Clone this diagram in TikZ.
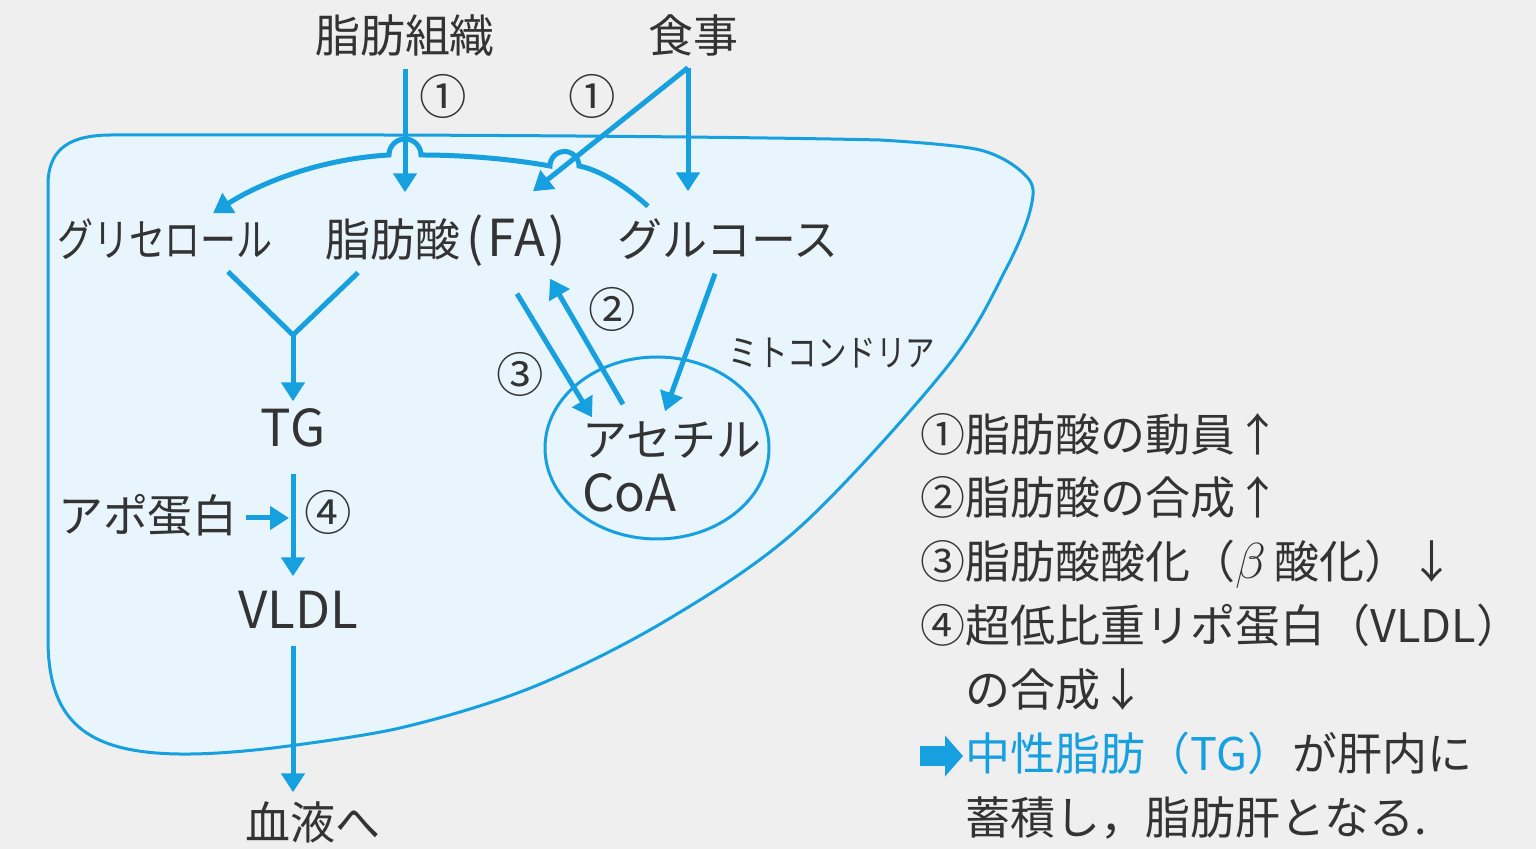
\documentclass[tikz,border=0pt]{standalone}
\usepackage{fontspec}
\setmainfont{Noto Sans CJK JP}
\usepackage{graphicx}
\usetikzlibrary{calc,arrows.meta,shapes.geometric}

\definecolor{bgGray}{HTML}{EFEFEF}
\definecolor{liverFill}{HTML}{E9F5FD}
\definecolor{flowBlue}{HTML}{17A0E0}
\definecolor{inkGray}{HTML}{333333}

\newcommand{\jpsize}{\fontsize{12.8}{15}\selectfont}
\newcommand{\lat}[1]{{\fontsize{14.5}{17}\selectfont #1}}

\begin{document}
\begin{tikzpicture}[
    >={Triangle[length=0.19cm,width=0.23cm]},
    flow/.style={draw=flowBlue, line width=0.05cm},
    lbl/.style={inner sep=0pt, text height=0.36cm, text depth=0.06cm, text=inkGray, font=\jpsize},
    num/.style={lbl, font=\fontsize{13.5}{15}\selectfont},
    legend/.style={lbl, anchor=west},
    liver/.style={fill=liverFill, draw=flowBlue, line width=0.03cm},
  ]

    % Background
    \fill[bgGray] (0,0) rectangle (15.36,8.49);
    \useasboundingbox (0,0) rectangle (15.36,8.49);

    % Liver outline (approximate)
    \filldraw[liver] (0.48,6.64) .. controls (0.48,7.02) and (0.72,7.14) .. (1.12,7.14)
      .. controls (4.5,7.15) and (7.5,7.12) .. (8.80,7.09)
      -- plot[smooth,tension=0.55] coordinates {(8.80,7.09) (9.80,6.99) (10.27,6.72)
         (10.31,6.42) (10.07,5.82) (9.47,4.82) (8.00,3.22) (6.67,2.29) (5.33,1.62)
         (4.00,1.21) (2.73,1.01)}
      .. controls (1.10,0.82) and (0.48,1.05) .. (0.48,2.10)
      -- cycle;

    % Mitochondrion
    \node[ellipse, draw=flowBlue, line width=0.03cm, minimum width=2.24cm, minimum height=1.82cm] (mito) at (6.57,4.01) {};

    % Labels
    \node[lbl] (adipose)  at (4.05,8.11) {脂肪組織};
    \node[lbl] (meal)     at (6.93,8.11) {食事};
    \node[lbl] (glycerol) at (1.65,6.07) {\scalebox{0.8}[1]{グリセロール}};
    \node[lbl] (fa)       at (4.46,6.07) {脂肪酸\hspace{0.06cm}\lat{(\hspace{0.04cm}FA\hspace{0.04cm})}};
    \node[lbl] (glucose)  at (7.28,6.07) {グルコース};
    \node[lbl] (tg)       at (2.93,4.17) {\lat{TG}};
    \node[lbl] (apo)      at (1.48,3.31) {アポ蛋白};
    \node[lbl] (vldl)     at (2.98,2.35) {\lat{VLDL}};
    \node[lbl] (blood)    at (3.13,0.24) {血液へ};
    \node[lbl] (acetyl)   at (6.72,4.07) {アセチル};
    \node[lbl, anchor=west] (coa) at ($(acetyl.west)+(0,-0.55)$) {\lat{CoA}};
    \node[lbl] (mitoname) at (8.32,4.97) {\scalebox{0.8}[1]{\fontsize{10.5}{12}\selectfont ミトコンドリア}};

    % Step numbers
    \node[num] (s1a) at (4.43,7.49) {①};
    \node[num] (s1b) at (5.92,7.49) {①};
    \node[num] (s2)  at (6.12,5.36) {②};
    \node[num] (s3)  at (5.20,4.71) {③};
    \node[num] (s4)  at (3.28,3.33) {④};

    % Branch points
    \coordinate (mealFork) at ($(meal.south)+(-0.05,-0.08)$);
    \coordinate (yJoin)    at (2.93,5.14);

    % 1) Mobilisation and intake
    \draw[flow,->,shorten <=0.09cm,shorten >=0.28cm] (adipose.south) -- (adipose.south |- fa.north);
    \draw[flow,->,shorten >=0.29cm] (mealFork) -- (mealFork |- glucose.north);
    \draw[flow,->] (mealFork) -- ($(fa.north)+(0.87,0.29)$);

    % Glucose -> glycerol, hopping over both arrows
    \draw[flow,->] ($(glucose.north)+(-0.80,0.14)$)
      .. controls (6.20,6.68) and (5.95,6.80) .. (5.79,6.83)
      arc[start angle=0,end angle=180,radius=0.145]
      .. controls (5.00,6.92) and (4.50,6.94) .. (4.21,6.94)
      arc[start angle=0,end angle=180,radius=0.16]
      .. controls (3.20,6.90) and (2.60,6.66) .. ($(glycerol.north)+(0.48,0.07)$);

    % Glycerol + FA -> TG -> VLDL -> blood
    \draw[flow] ($(glycerol.south)+(0.63,-0.08)$) -- (yJoin) -- ($(fa.south)+(-0.88,-0.09)$);
    \draw[flow,->,shorten >=0.09cm] (yJoin) -- (tg.north);
    \draw[flow,->,shorten <=0.2cm,shorten >=0.16cm] (tg.south) -- (tg.south |- vldl.north);
    \draw[flow,->,shorten <=0.07cm,shorten >=0.04cm] (apo.east) -- (apo.east -| tg.south);
    \draw[flow,->,shorten <=0.1cm,shorten >=0.11cm] (tg.south |- vldl.south) -- (tg.south |- blood.north);

    % 2), 3) and glucose into acetyl-CoA
    \draw[flow,->] ($(fa.south)+(0.71,-0.30)$) -- ($(acetyl.north)+(-0.80,0.03)$);
    \draw[flow,->] ($(acetyl.north)+(-0.49,0.16)$) -- ($(fa.south)+(1.04,-0.15)$);
    \draw[flow,->] ($(glucose.south)+(-0.13,-0.10)$) -- ($(acetyl.north)+(-0.07,0.09)$);

    % Legend
    \node[legend] (leg1) at (9.20,4.12) {①脂肪酸の動員↑};
    \node[legend] (leg2) at (9.20,3.49) {②脂肪酸の合成↑};
    \node[legend] (leg3) at (9.20,2.85) {③脂肪酸酸化（\lat{$\beta$}\hspace{0.08cm}酸化）↓};
    \node[legend] (leg4) at (9.20,2.21) {④超低比重リポ蛋白（VLDL）};
    \node[legend] (leg5) at (9.65,1.57) {の合成↓};
    \node[legend] (leg6) at (9.65,0.93) {{\color{flowBlue}中性脂肪（TG）}が肝内に};
    \node[legend] (leg7) at (9.65,0.29) {蓄積し，脂肪肝となる.};
    \draw[draw=flowBlue, line width=0.2cm, -{Triangle[length=0.18cm,width=0.40cm]}]
      ($(leg6.west)+(-0.45,0)$) -- ($(leg6.west)+(-0.02,0)$);

\end{tikzpicture}
\end{document}
